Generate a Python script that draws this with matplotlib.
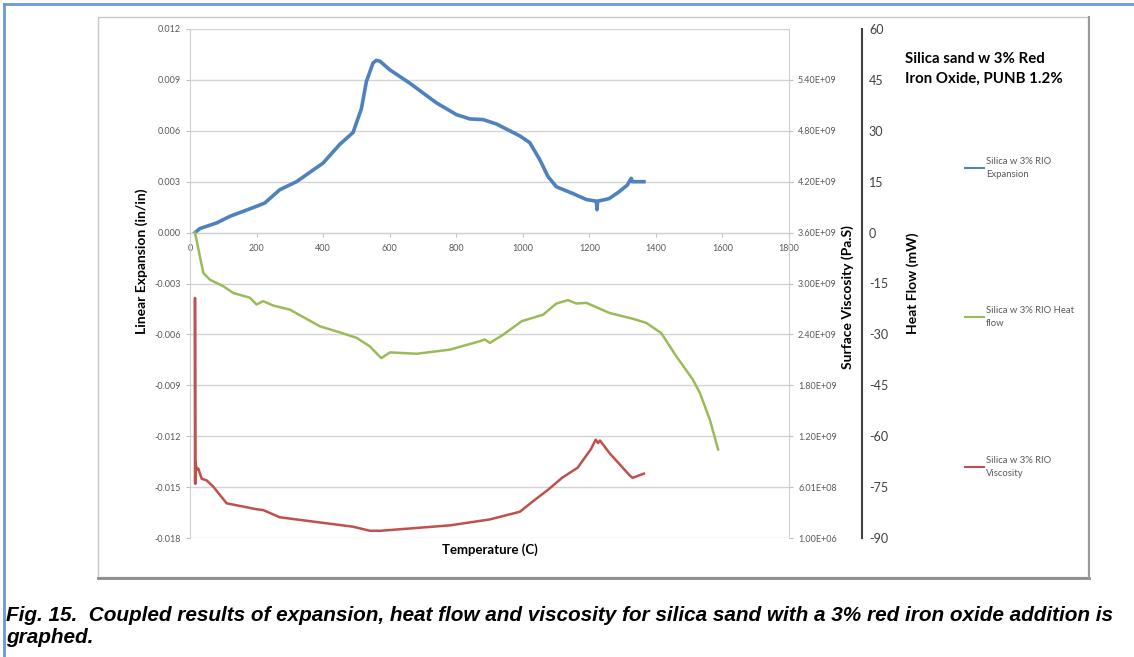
import matplotlib
matplotlib.use("Agg")
import matplotlib.pyplot as plt
from matplotlib.lines import Line2D
from matplotlib.patches import Rectangle

# expansion (in/in) vs temperature (C)
exp_temp = [15, 30, 80, 120, 200, 225, 270, 320, 400, 450, 490, 500, 515, 530, 550, 560,
            571, 600, 661, 741, 801, 841, 881, 921, 991, 1021, 1051, 1076, 1101, 1151,
            1191, 1221, 1223, 1225, 1259, 1289, 1314, 1326, 1329, 1364]
exp_val = [0.0, 0.00024, 0.00057, 0.00096, 0.00155, 0.00175, 0.00253, 0.0030, 0.0041,
           0.0052, 0.0059, 0.00646, 0.0073, 0.0089, 0.0100, 0.01015, 0.0101, 0.0096,
           0.0088, 0.00764, 0.00695, 0.0067, 0.00666, 0.0064, 0.0057, 0.0053, 0.0043,
           0.0033, 0.0027, 0.0023, 0.00195, 0.00185, 0.00135, 0.00185, 0.0020, 0.0024,
           0.0028, 0.0032, 0.0030, 0.0030]

# heat flow (mW)
hf_temp = [15, 40, 60, 100, 130, 180, 200, 220, 250, 300, 390, 450, 500, 540, 575, 601,
           681, 781, 871, 886, 901, 941, 997, 1061, 1101, 1136, 1161, 1191, 1261, 1331,
           1371, 1416, 1461, 1511, 1532, 1562, 1587]
hf_val = [0, -11.9, -13.9, -15.8, -17.8, -19.2, -21.2, -20.2, -21.5, -22.7, -27.6, -29.4,
          -31.0, -33.5, -37.0, -35.3, -35.7, -34.5, -32.0, -31.5, -32.5, -30.1, -26.1,
          -24.2, -20.9, -19.9, -20.9, -20.7, -23.7, -25.4, -26.6, -29.6, -36.4, -43.3,
          -47.2, -55.1, -63.9]

# surface viscosity (Pa.s)
vis_temp = [15, 15, 16, 17, 20, 25, 35, 50, 70, 110, 200, 220, 270, 490, 541, 571, 601,
            781, 901, 991, 1036, 1076, 1118, 1165, 1205, 1219, 1226, 1232, 1261, 1321,
            1330, 1364]
vis_val = [6.5e8, 2.83e9, 6.4e8, 8.9e8, 8.0e8, 8.2e8, 7.0e8, 6.8e8, 6.06e8, 4.1e8, 3.4e8,
           3.3e8, 2.45e8, 1.34e8, 8.6e7, 8.6e7, 9.5e7, 1.5e8, 2.2e8, 3.1e8, 4.5e8, 5.7e8,
           7.1e8, 8.3e8, 1.05e9, 1.16e9, 1.12e9, 1.15e9, 1.0e9, 7.4e8, 7.1e8, 7.6e8]

exp_ticks = [0.012, 0.009, 0.006, 0.003, 0.0, -0.003, -0.006, -0.009, -0.012, -0.015, -0.018]
temp_ticks = [0, 200, 400, 600, 800, 1000, 1200, 1400, 1600, 1800]
vis_ticks = [1e6 + k * 6e8 for k in range(10)]
hf_ticks = [60, 45, 30, 15, 0, -15, -30, -45, -60, -75, -90]

plt.rcParams['font.family'] = ['Lato', 'DejaVu Sans']
plt.rcParams['axes.unicode_minus'] = False

W, H = 1134, 657
fig = plt.figure(figsize=(W / 100, H / 100), dpi=100)

def fx(px):
    return px / W

def fy(py):
    return 1 - py / H

# page frame + chart box
fig.add_artist(Line2D([fx(4), 1], [fy(4), fy(4)], color='#6A98D8', lw=2))
fig.add_artist(Line2D([fx(4), fx(4)], [fy(4), 0], color='#6A98D8', lw=2))
fig.add_artist(Rectangle((fx(98), fy(577)), fx(1088) - fx(98), fy(17) - fy(577),
                         fill=False, edgecolor='#C8C8C8', lw=1))
fig.add_artist(Line2D([fx(98), fx(1089)], [fy(578), fy(578)], color='#8C8C8C', lw=2))
fig.add_artist(Line2D([fx(1089), fx(1089)], [fy(578), fy(17)], color='#9A9A9A', lw=1.5))

ax = fig.add_axes([fx(190), fy(538), fx(789) - fx(190), fy(29) - fy(538)])
ax.set_xlim(0, 1800)
ax.set_ylim(-0.018, 0.012)
ax.set_yticks(exp_ticks)
ax.set_yticklabels([f"{v:.3f}" for v in exp_ticks])
ax.set_xticks(temp_ticks)
ax.grid(axis='y', color='#D4D4D4', lw=1)
ax.set_axisbelow(True)
for s in ['top', 'right']:
    ax.spines[s].set_visible(False)
ax.spines['left'].set_color('#D0D0D0')
ax.spines['bottom'].set_position(('data', 0))
ax.spines['bottom'].set_color('#D0D0D0')
ax.tick_params(axis='both', labelsize=6.5, labelcolor='#595959', color='#C0C0C0',
               length=3, width=0.8)
ax.tick_params(axis='x', pad=5)
ax.patch.set_alpha(0)

axv = ax.twinx()
axv.set_ylim(1e6, 6.001e9)
axv.set_yticks(vis_ticks)
axv.set_yticklabels([f"{v:.2E}" for v in vis_ticks])
for s in ['top', 'left', 'bottom']:
    axv.spines[s].set_visible(False)
axv.spines['right'].set_color('#D0D0D0')
axv.tick_params(axis='y', labelsize=6.5, labelcolor='#595959', color='#C0C0C0',
                length=3, width=0.8)

axh = ax.twinx()
axh.set_ylim(-90, 60)
axh.set_yticks(hf_ticks)
for s in ['top', 'left', 'bottom']:
    axh.spines[s].set_visible(False)
axh.spines['right'].set_position(('axes', (862 - 190) / 599))
axh.spines['right'].set_color('#404040')
axh.spines['right'].set_linewidth(1.5)
axh.tick_params(axis='y', labelsize=9, labelcolor='#404040', length=0, pad=5)

axv.plot(vis_temp, vis_val, color='#C0504D', lw=1.8)
axh.plot(hf_temp, hf_val, color='#9BBB59', lw=1.8)
ax.plot(exp_temp, exp_val, color='#4F81BD', lw=2.6)

# axis titles
fig.text(fx(142), fy(261), 'Linear Expansion (in/in)', rotation=90, fontsize=10,
         fontweight='bold', ha='center', va='center')
fig.text(fx(848), fy(297), 'Surface Viscosity (Pa.S)', rotation=90, fontsize=10,
         fontweight='bold', ha='center', va='center')
fig.text(fx(913), fy(283), 'Heat Flow (mW)', rotation=90, fontsize=10,
         fontweight='bold', ha='center', va='center')
fig.text(fx(490), fy(550), 'Temperature (C)', fontsize=9.5, fontweight='bold',
         ha='center', va='center')
fig.text(fx(905), fy(52), 'Silica sand w 3% Red\nIron Oxide, PUNB 1.2%', fontsize=10.8,
         fontweight='bold', ha='left', va='top', linespacing=1.55)

# legend entries, spread down the side like the original
leg_items = [('#4F81BD', 'Silica w 3% RIO\nExpansion', 157),
             ('#9BBB59', 'Silica w 3% RIO Heat\nflow', 306),
             ('#C0504D', 'Silica w 3% RIO\nViscosity', 456)]
for col, lab, py in leg_items:
    leg = fig.legend([Line2D([], [], color=col, lw=1.5)], [lab], loc='upper left',
                     bbox_to_anchor=(fx(965), fy(py)), frameon=False, fontsize=6.8,
                     handlelength=2.0, handletextpad=0.2, borderaxespad=0, borderpad=0,
                     labelcolor='#595959')
    leg.get_texts()[0].set_linespacing(1.6)

# caption
cap = fig.text(fx(6), fy(606),
               'Fig. 15.  Coupled results of expansion, heat flow and viscosity for silica '
               'sand with a 3% red iron oxide addition is\ngraphed.',
               family=['Liberation Sans Narrow', 'Liberation Sans', 'DejaVu Sans'],
               fontsize=14, fontweight='bold', fontstyle='italic', ha='left', va='top',
               linespacing=1.2)
fig.canvas.draw()
wpx = cap.get_window_extent(fig.canvas.get_renderer()).width
cap.set_fontsize(14 * 1114 / wpx)

fig.savefig('out.png', dpi=100)
